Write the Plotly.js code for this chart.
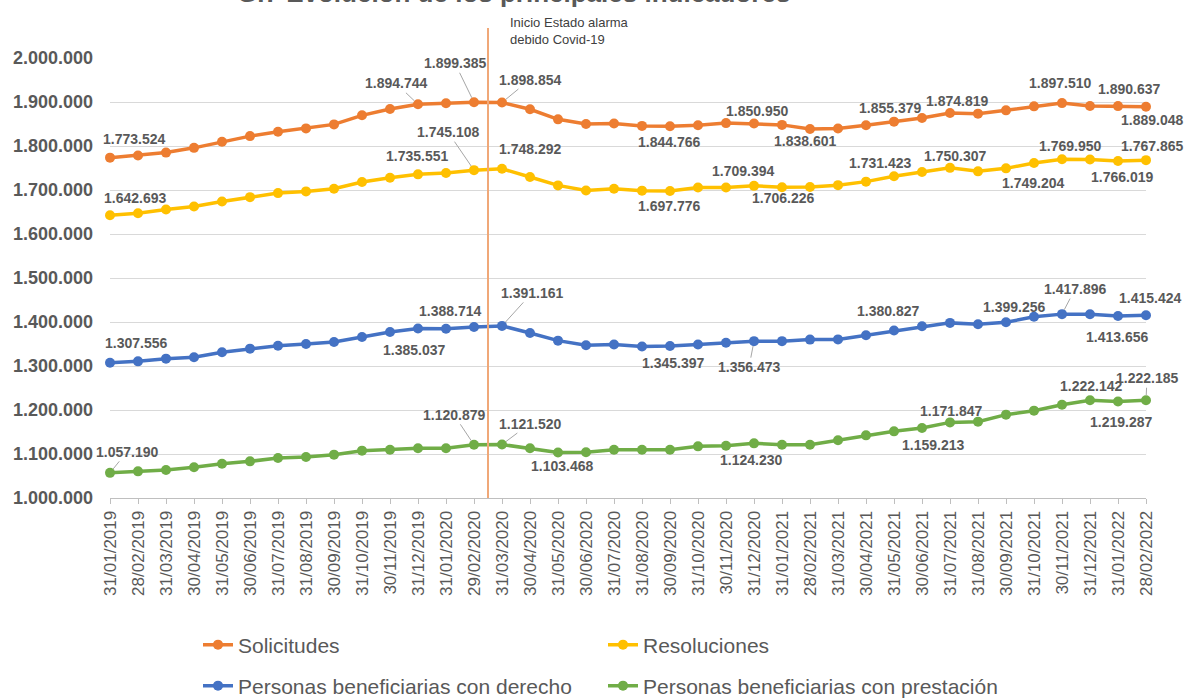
<!DOCTYPE html>
<html><head><meta charset="utf-8">
<script src="https://cdn.plot.ly/plotly-3.0.1.min.js"></script>
<style>html,body{margin:0;padding:0;background:#fff}#chart{width:1188px;height:698px}</style>
</head><body><div id="chart"></div>
<script>
const dates = ['31/01/2019','28/02/2019','31/03/2019','30/04/2019','31/05/2019','30/06/2019','31/07/2019','31/08/2019','30/09/2019','31/10/2019','30/11/2019','31/12/2019',
  '31/01/2020','29/02/2020','31/03/2020','30/04/2020','31/05/2020','30/06/2020','31/07/2020','31/08/2020','30/09/2020','31/10/2020','30/11/2020','31/12/2020',
  '31/01/2021','28/02/2021','31/03/2021','30/04/2021','31/05/2021','30/06/2021','31/07/2021','31/08/2021','30/09/2021','31/10/2021','30/11/2021','31/12/2021',
  '31/01/2022','28/02/2022'];
const seriesNames = ['Solicitudes','Resoluciones','Personas beneficiarias con derecho','Personas beneficiarias con prestación'];
const solicitudes = [1773524,1778300,1785000,1795800,1809500,1822500,1832400,1840000,1849100,1869700,1884200,1894744,
  1897000,1899385,1898854,1883400,1860600,1850000,1851000,1845700,1844766,1847200,1852000,1850950,
  1848000,1838601,1839600,1847200,1855379,1863600,1874819,1873500,1881000,1890100,1897510,1891000,
  1890637,1889048];
const resoluciones = [1642693,1647200,1655600,1662500,1673900,1683800,1692950,1696800,1702900,1718100,1728000,1735551,
  1738700,1745108,1748292,1729500,1710500,1699000,1703000,1698500,1697776,1705500,1705800,1709394,
  1706226,1707000,1711000,1719000,1731423,1740900,1750307,1742400,1749204,1761400,1769950,1769500,
  1766019,1767865];
const conDerecho = [1307556,1310600,1316700,1319700,1331100,1339400,1346200,1350000,1354500,1365900,1377300,1385037,
  1384500,1388714,1391161,1375000,1357600,1347000,1349000,1344500,1345397,1349000,1353000,1356473,
  1356500,1360000,1360500,1370000,1380827,1390500,1398000,1395000,1399256,1412000,1417896,1417500,
  1413656,1415424];
const conPrestacion = [1057190,1060600,1063600,1069700,1078000,1083300,1090900,1093200,1098500,1107600,1109800,1112900,
  1113000,1120879,1121520,1113000,1103468,1103800,1109800,1109800,1109800,1117400,1118900,1124230,
  1121200,1121200,1131100,1142400,1151500,1159213,1171847,1173500,1189400,1198500,1212100,1222142,
  1219287,1222185];
const titleText = 'G.7 Evolución de los principales indicadores';
const covidText = 'Inicio Estado alarma<br>debido Covid-19';
const covidIndex = 13.5;

// indices of labelled points
const labelsSolicitudes = [0,11,13,14,20,23,25,28,30,34,36,37];
const labelsResoluciones = [0,11,13,14,20,23,24,28,30,32,34,36,37];
const labelsDerecho = [0,11,13,14,20,23,28,32,34,36,37];
const labelsPrestacion = [0,13,14,16,23,29,30,35,36,37];

// label placement (pixel offsets of text centre from point) and leader-line flags
const placement = {
  s: {off:[[24,-19],[-22,-21],[-19,-39],[28,-23],[-1,16],[3,-13],[-5,12],[-4,-14],[7,-12],[-2,-20],[11,-17],[6,13]], lead:[11,13,14]},
  r: {off:[[25,-17],[-1,-18],[-26,-38],[28,-20],[-1,15],[-11,-15],[1,11],[-14,-13],[5,-12],[27,15],[8,-13],[4,16],[6,-14]], lead:[13]},
  d: {off:[[26,-20],[-4,21],[-24,-16],[30,-33],[3,17],[-5,26],[-6,-19],[8,-15],[13,-25],[-1,21],[4,-17]], lead:[14,23,34]},
  p: {off:[[17,-21],[-20,-30],[28,-21],[4,14],[-3,17],[11,17],[1,-11],[1,-14],[3,20],[1,-22]], lead:[0,13,14,37]}
};

const colors = ['#ED7D31','#FFC000','#4472C4','#70AD47'];
const fam = 'Liberation Sans, Arial, sans-serif';
const grey = '#595959';

const allVals = [solicitudes, resoluciones, conDerecho, conPrestacion];
const legendsFor = ['legend','legend','legend2','legend2'];
const traces = allVals.map((v,k)=>({
  type:'scatter', mode:'lines+markers', x:dates, y:v, name:seriesNames[k],
  line:{color:colors[k], width:3.5}, marker:{color:colors[k], size:10},
  legend:legendsFor[k], cliponaxis:false, hoverinfo:'skip'
}));

function fmt(v){return String(v).replace(/\B(?=(\d{3})+(?!\d))/g,'.');}
const labelFont = {family:fam, size:14, color:grey, weight:'bold'};
const anns = [];
function addLabels(vals, idxs, pl){
  idxs.forEach((i,k)=>{
    const dx = pl.off[k][0], dy = pl.off[k][1];
    const a = {x:dates[i], y:vals[i], xref:'x', yref:'y', text:fmt(vals[i]), font:labelFont};
    if(pl.lead.includes(i)) Object.assign(a,{showarrow:true, ax:dx, ay:dy, arrowhead:0, arrowwidth:1, arrowcolor:'#A6A6A6', standoff:5});
    else Object.assign(a,{showarrow:false, xshift:dx, yshift:-dy});
    anns.push(a);
  });
}
addLabels(solicitudes, labelsSolicitudes, placement.s);
addLabels(resoluciones, labelsResoluciones, placement.r);
addLabels(conDerecho, labelsDerecho, placement.d);
addLabels(conPrestacion, labelsPrestacion, placement.p);

anns.push({x:covidIndex, xref:'x', xanchor:'left', xshift:20, y:1.0614, yref:'paper', yanchor:'middle',
  text:covidText, align:'left', showarrow:false, font:{family:fam, size:13, color:'#404040'}});
anns.push({x:0.389, xref:'paper', xanchor:'center', y:1.148, yref:'paper', yanchor:'middle',
  text:titleText, showarrow:false, font:{family:fam, size:26, color:grey, weight:'bold'}});

const legendBase = {orientation:'h', xref:'container', yref:'container', xanchor:'left', yanchor:'middle',
  entrywidth:360, entrywidthmode:'pixels', font:{family:fam, size:21, color:grey}, bgcolor:'rgba(0,0,0,0)'};

const layout = {
  width:1188, height:698, paper_bgcolor:'#fff', plot_bgcolor:'#fff',
  margin:{l:110, r:42, t:58, b:200}, separators:',.', showlegend:true,
  xaxis:{type:'category', range:[0,37], showline:true, linecolor:'#BFBFBF', linewidth:1, ticks:'outside', ticklen:5,
    tickcolor:'#BFBFBF', tickangle:-90, tickfont:{family:fam, size:17, color:grey}, showgrid:false, zeroline:false, fixedrange:true},
  yaxis:{range:[1000000,2000000], dtick:100000, tickformat:',d', showgrid:true, gridcolor:'#D9D9D9', gridwidth:1,
    zeroline:false, showline:false, ticks:'', ticklabelstandoff:16, tickfont:{family:fam, size:18, color:grey, weight:'bold'}, fixedrange:true},
  legend:Object.assign({}, legendBase, {x:198/1188, y:1-645/698}),
  legend2:Object.assign({}, legendBase, {x:198/1188, y:1-686/698}),
  shapes:[{type:'line', xref:'x', x0:covidIndex, x1:covidIndex, yref:'paper', y0:0, y1:1.068, line:{color:'#F0A878', width:2}}],
  annotations:anns
};
Plotly.newPlot('chart', traces, layout, {displayModeBar:false, staticPlot:true});
</script></body></html>
